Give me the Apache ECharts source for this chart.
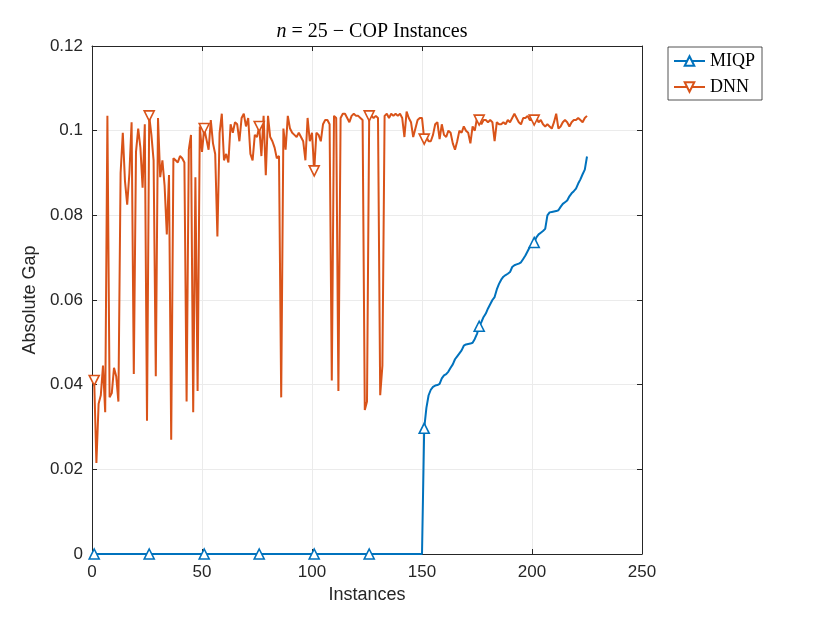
<!DOCTYPE html>
<html>
<head>
    <meta charset="utf-8">
    <title>n = 25 - COP Instances</title>
    <style>
        html, body { margin: 0; padding: 0; background: #fff; }
    </style>
</head>
<body>
<div id="main" style="width: 830px;height:623px;"></div>

<script type="text/javascript" src="https://cdn.jsdelivr.net/npm/echarts@6/dist/echarts.min.js"></script>
<script type="text/javascript">
// instances 1..225, marker every 25th instance (1, 26, 51, ...)
var dnnGap = [
    0.0410, 0.0215, 0.0355, 0.0375, 0.0445, 0.0335, 0.1035, 0.0370, 0.0380, 0.0440,
    0.0420, 0.0360, 0.0900, 0.0995, 0.0880, 0.0825, 0.0900, 0.1020, 0.0425, 0.0950,
    0.1005, 0.0960, 0.0865, 0.1015, 0.0315, 0.1035, 0.0990, 0.0930, 0.0420, 0.1030,
    0.0890, 0.0930, 0.0870, 0.0755, 0.0895, 0.0270, 0.0935, 0.0930, 0.0925, 0.0940,
    0.0935, 0.0925, 0.0360, 0.0955, 0.0990, 0.0335, 0.0890, 0.0385, 0.1010, 0.0950,
    0.1005, 0.0980, 0.0955, 0.1025, 0.0970, 0.0945, 0.0750, 0.0995, 0.1040, 0.0930,
    0.0945, 0.0925, 0.1015, 0.0995, 0.1020, 0.1015, 0.0975, 0.1030, 0.1040, 0.1010,
    0.1030, 0.0945, 0.0930, 0.0990, 0.0985, 0.1010, 0.0940, 0.1035, 0.0895, 0.1035,
    0.0985, 0.0975, 0.0960, 0.0935, 0.0940, 0.0370, 0.1005, 0.0955, 0.1035, 0.1005,
    0.0995, 0.0990, 0.0985, 0.0995, 0.0985, 0.0975, 0.0930, 0.1030, 0.0975, 0.0995,
    0.0905, 0.0995, 0.0990, 0.0975, 0.1015, 0.1025, 0.1025, 0.1015, 0.0410, 0.1035,
    0.1030, 0.0385, 0.1030, 0.1040, 0.1040, 0.1030, 0.1020, 0.1035, 0.1040, 0.1035,
    0.1035, 0.1030, 0.1025, 0.0340, 0.0360, 0.1035, 0.1035, 0.1030, 0.1035, 0.1030,
    0.0375, 0.0445, 0.1035, 0.1040, 0.1030, 0.1040, 0.1035, 0.1040, 0.1035, 0.1040,
    0.1030, 0.0985, 0.1045, 0.1030, 0.1020, 0.0985, 0.1005, 0.1025, 0.1030, 0.1030,
    0.0980, 0.0985, 0.0975, 0.0975, 0.0990, 0.1015, 0.1020, 0.0980, 0.1015, 0.0990,
    0.0985, 0.1000, 0.0995, 0.0970, 0.0955, 0.0975, 0.1000, 0.0995, 0.1010, 0.1000,
    0.0995, 0.0970, 0.1010, 0.1000, 0.1030, 0.1025, 0.1015, 0.1025, 0.1025, 0.1020,
    0.1025, 0.1020, 0.0975, 0.1020, 0.1015, 0.1015, 0.1020, 0.1015, 0.1025, 0.1020,
    0.1030, 0.1040, 0.1030, 0.1020, 0.1015, 0.1030, 0.1030, 0.1035, 0.1025, 0.1025,
    0.1025, 0.1030, 0.1020, 0.1025, 0.1015, 0.1010, 0.1015, 0.1010, 0.1005, 0.1020,
    0.1040, 0.1005, 0.1010, 0.1020, 0.1025, 0.1020, 0.1010, 0.1020, 0.1025, 0.1025,
    0.1030, 0.1025, 0.1020, 0.1030, 0.1035
];
// MIQP is zero for instances 1..150, then these values for 151..225
var miqpZeroCount = 150;
var miqpTail = [
    0.0297, 0.0345, 0.0375, 0.0388, 0.0395, 0.0398, 0.0399, 0.0402, 0.0415, 0.0422,
    0.0425, 0.0431, 0.0440, 0.0448, 0.0460, 0.0467, 0.0474, 0.0481, 0.0492, 0.0495,
    0.0496, 0.0497, 0.0499, 0.0508, 0.0520, 0.0538, 0.0548, 0.0560, 0.0568, 0.0580,
    0.0590, 0.0600, 0.0607, 0.0625, 0.0638, 0.0648, 0.0655, 0.0659, 0.0662, 0.0666,
    0.0678, 0.0682, 0.0684, 0.0686, 0.0689, 0.0697, 0.0705, 0.0715, 0.0725, 0.0730,
    0.0736, 0.0748, 0.0755, 0.0759, 0.0763, 0.0768, 0.0800, 0.0807, 0.0808, 0.0809,
    0.0810, 0.0812, 0.0820, 0.0827, 0.0831, 0.0835, 0.0845, 0.0852, 0.0857, 0.0863,
    0.0875, 0.0885, 0.0897, 0.0908, 0.0939
];
var markerStep = 25;
var xTicks = [0, 50, 100, 150, 200, 250];
var yTicks = [0, 0.02, 0.04, 0.06, 0.08, 0.1, 0.12];

var miqpGap = [];
for (var i = 0; i < miqpZeroCount; i++) miqpGap.push(0);
miqpGap = miqpGap.concat(miqpTail);

function toPoints(arr) {
    var out = [];
    for (var i = 0; i < arr.length; i++) {
        var item = { value: [i + 1, arr[i]] };
        if (i % markerStep !== 0) item.symbol = 'none';   // only every 25th gets a marker
        out.push(item);
    }
    return out;
}

var axisColor = '#262626';
var gridColor = '#ebebeb';
var blue = '#0072BD';
var orange = '#D95319';

var myChart = echarts.init(document.getElementById('main'));
var option = {
    backgroundColor: '#fff',
    animation: false,
    title: {
        text: '{i|n} = 25 − COP Instances',
        left: 367,
        textAlign: 'center',
        top: 17,
        textStyle: {
            fontFamily: 'Liberation Serif',
            fontSize: 20,
            fontWeight: 'normal',
            color: '#000',
            rich: {
                i: { fontFamily: 'Liberation Serif', fontStyle: 'italic', fontSize: 20, color: '#000' }
            }
        }
    },
    legend: {
        orient: 'vertical',
        left: 668,
        top: 47,
        padding: [5, 7, 4, 5],
        itemWidth: 31,
        itemHeight: 12,
        itemGap: 8,
        borderColor: '#262626',
        borderWidth: 0.8,
        borderRadius: 0,
        backgroundColor: '#fff',
        textStyle: { fontFamily: 'Liberation Serif', fontSize: 18, color: '#000' },
        data: ['MIQP', 'DNN']
    },
    grid: { left: 92, right: 188, top: 46, bottom: 69, containLabel: false },
    xAxis: [{
        type: 'value',
        min: xTicks[0],
        max: xTicks[xTicks.length - 1],
        interval: 50,
        name: 'Instances',
        nameLocation: 'middle',
        nameGap: 32,
        nameTextStyle: { fontFamily: 'Liberation Sans', fontSize: 18, color: axisColor },
        axisLine: { onZero: false, lineStyle: { color: axisColor, width: 1 } },
        axisTick: { inside: true, length: 5, lineStyle: { color: axisColor } },
        axisLabel: { fontFamily: 'Liberation Sans', fontSize: 17, color: axisColor, margin: 10 },
        splitLine: { show: true, lineStyle: { color: gridColor, width: 1 } }
    }, {
        type: 'value',
        position: 'top',
        min: xTicks[0],
        max: xTicks[xTicks.length - 1],
        interval: 50,
        axisLine: { onZero: false, lineStyle: { color: axisColor, width: 1 } },
        axisTick: { inside: true, length: 5, lineStyle: { color: axisColor } },
        axisLabel: { show: false },
        splitLine: { show: false }
    }],
    yAxis: [{
        type: 'value',
        min: yTicks[0],
        max: yTicks[yTicks.length - 1],
        interval: 0.02,
        name: 'Absolute Gap',
        nameLocation: 'middle',
        nameGap: 47,
        nameTextStyle: { fontFamily: 'Liberation Sans', fontSize: 18, color: axisColor },
        axisLine: { show: true, onZero: false, lineStyle: { color: axisColor, width: 1 } },
        axisTick: { show: true, inside: true, length: 5, lineStyle: { color: axisColor } },
        axisLabel: { fontFamily: 'Liberation Sans', fontSize: 17, color: axisColor, margin: 9 },
        splitLine: { show: true, lineStyle: { color: gridColor, width: 1 } }
    }, {
        type: 'value',
        position: 'right',
        min: yTicks[0],
        max: yTicks[yTicks.length - 1],
        interval: 0.02,
        axisLine: { show: true, onZero: false, lineStyle: { color: axisColor, width: 1 } },
        axisTick: { show: true, inside: true, length: 5, lineStyle: { color: axisColor } },
        axisLabel: { show: false },
        splitLine: { show: false }
    }],
    series: [{
        name: 'MIQP',
        type: 'line',
        data: toPoints(miqpGap),
        symbol: 'triangle',
        symbolSize: 10,
        showAllSymbol: true,
        lineStyle: { color: blue, width: 2 },
        itemStyle: { color: '#fff', borderColor: blue, borderWidth: 1.6 },
        z: 3
    }, {
        name: 'DNN',
        type: 'line',
        data: toPoints(dnnGap),
        symbol: 'triangle',
        symbolRotate: 180,
        symbolSize: 10,
        showAllSymbol: true,
        lineStyle: { color: orange, width: 2 },
        itemStyle: { color: '#fff', borderColor: orange, borderWidth: 1.6 },
        z: 4
    }]
};
myChart.setOption(option);
</script>
</body>
</html>
